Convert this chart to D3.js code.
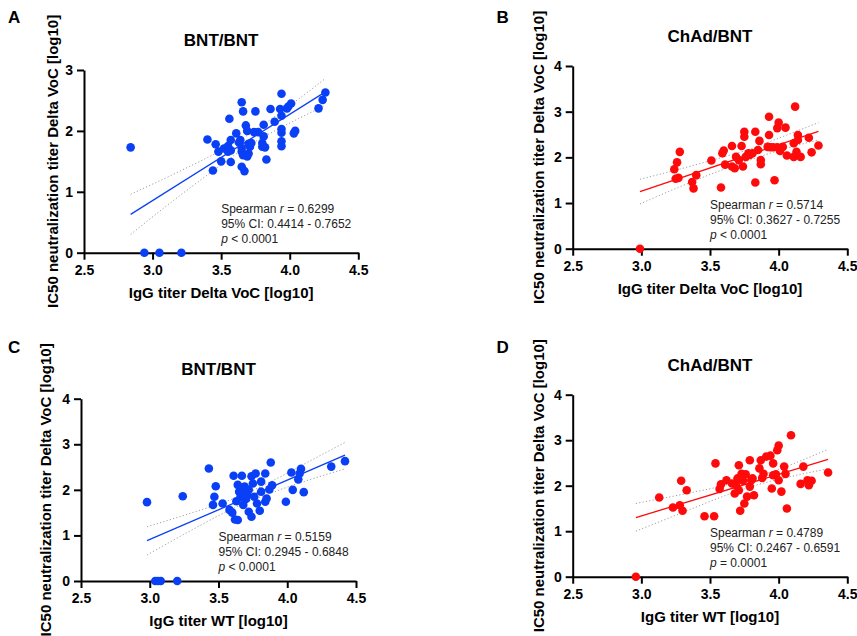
<!DOCTYPE html>
<html>
<head>
<meta charset="utf-8">
<script src="https://cdn.jsdelivr.net/npm/d3@7"></script>
<style>
  html, body { margin: 0; padding: 0; background: #fff; }
  svg { display: block; font-family: "Liberation Sans", Arial, sans-serif; }
</style>
</head>
<body>
<svg id="chart" width="857" height="636"></svg>
<script>
// [IgG log10, IC50 log10]
const bntDeltaPoints = [
  [2.84,1.73],[2.94,0],[3.05,0],[3.21,0],
  [3.40,1.86],[3.44,1.35],[3.46,1.78],[3.48,1.66],[3.50,1.50],[3.52,1.71],[3.55,1.75],[3.55,1.66],
  [3.56,2.20],[3.57,1.85],[3.57,1.68],[3.57,1.49],
  [3.61,1.96],[3.63,1.81],[3.64,1.85],[3.65,1.72],[3.65,1.66],[3.66,1.60],[3.65,1.41],[3.67,1.34],
  [3.65,2.47],[3.66,2.32],[3.68,2.09],[3.69,2.00],[3.70,1.79],[3.69,1.58],[3.70,1.63],[3.71,1.74],[3.72,1.80],
  [3.74,1.98],[3.75,2.32],[3.77,1.98],
  [3.80,1.80],[3.81,2.10],[3.81,1.91],[3.82,1.73],[3.83,1.53],[3.80,1.74],
  [3.86,2.36],[3.89,2.15],[3.93,2.36],[3.94,2.61],[3.94,2.25],[3.94,2.03],[3.94,1.97],[3.94,1.83],[3.94,1.75],
  [3.98,2.37],[3.99,2.40],[4.01,2.45],[4.03,1.96],[4.04,2.00],
  [4.21,2.37],[4.24,2.51],[4.26,2.63]
];
const chadDeltaPoints = [
  [2.99,0],
  [3.24,1.74],[3.25,1.53],[3.26,1.89],[3.27,1.55],[3.28,2.12],
  [3.37,1.46],[3.38,1.32],[3.40,1.61],[3.51,1.93],[3.58,1.34],[3.59,2.09],[3.60,2.15],[3.61,1.84],
  [3.66,2.25],[3.66,1.80],[3.68,1.76],[3.69,2.01],[3.71,1.94],[3.73,2.25],[3.74,1.80],[3.75,2.45],
  [3.75,2.56],[3.76,2.01],[3.78,2.09],[3.79,2.05],[3.81,2.09],[3.83,1.45],[3.83,2.56],[3.85,2.16],
  [3.86,2.36],[3.87,1.94],[3.87,1.85],[3.92,2.23],[3.93,2.89],[3.93,2.49],[3.94,2.22],[3.96,2.22],
  [3.97,1.50],[3.99,2.22],[3.99,2.64],[4.00,2.76],[4.01,2.14],[4.03,2.23],[4.05,2.65],[4.06,2.04],
  [4.11,2.01],[4.11,2.31],[4.12,3.11],[4.13,2.12],[4.14,2.49],[4.14,2.38],[4.16,2.01],
  [4.22,2.43],[4.24,2.11],[4.29,2.26]
];
const bntWtPoints = [
  [2.98,1.73],[3.04,0],[3.06,0],[3.08,0],[3.20,0],[3.24,1.86],
  [3.43,2.47],[3.47,1.85],[3.48,2.08],[3.46,1.67],[3.53,1.70],[3.58,1.56],[3.60,1.50],
  [3.61,2.31],[3.62,1.35],[3.64,1.34],[3.64,2.11],[3.65,1.96],[3.66,1.85],[3.67,1.90],[3.63,1.75],
  [3.67,2.31],[3.68,1.67],[3.69,2.07],[3.68,1.95],[3.70,1.80],[3.71,1.88],[3.72,2.00],[3.72,1.52],
  [3.74,1.41],[3.74,2.30],[3.75,2.14],[3.76,1.85],[3.77,2.36],[3.78,1.70],[3.80,1.54],[3.81,2.18],
  [3.81,1.96],[3.84,1.74],[3.84,2.36],[3.85,1.81],[3.87,2.01],[3.88,2.60],[3.89,2.10],
  [3.99,1.74],[4.03,2.38],[4.04,2.00],[4.08,2.23],[4.09,2.36],[4.10,2.46],[4.12,1.95],
  [4.32,2.51],[4.42,2.63]
];
const chadWtPoints = [
  [2.96,0],
  [3.13,1.74],[3.23,1.52],[3.28,1.57],[3.29,2.11],[3.30,1.45],[3.33,1.90],
  [3.46,1.33],[3.53,1.33],[3.54,2.49],[3.57,1.93],[3.58,2.03],[3.62,2.12],[3.66,2.05],
  [3.68,1.83],[3.69,2.01],[3.70,2.16],[3.71,2.45],[3.71,1.90],[3.72,1.45],[3.73,2.26],[3.74,2.11],
  [3.75,1.61],[3.76,2.25],[3.77,1.76],[3.79,2.56],[3.79,1.98],[3.80,2.12],[3.81,2.16],[3.82,1.79],
  [3.86,2.38],[3.87,2.56],[3.88,2.17],[3.89,2.26],[3.91,2.64],[3.94,2.66],[3.95,1.94],[3.96,2.49],
  [3.96,2.23],[3.98,2.25],[3.99,2.78],[4.00,2.88],[4.00,2.12],[4.02,1.87],[4.04,2.42],[4.05,2.26],
  [4.06,1.50],[4.09,3.11],[4.18,2.42],[4.16,2.04],[4.21,2.12],[4.22,2.01],[4.24,2.11],[4.36,2.29]
];

// regression lines and 95% confidence bands
const fitA = [[2.84,0.63],[4.26,2.64]];
const upperA = [[2.84,0.96],[3.2,1.34],[3.5,1.68],[3.7,1.94],[3.9,2.25],[4.26,2.86]];
const lowerA = [[2.84,0.30],[3.2,0.94],[3.5,1.44],[3.7,1.76],[3.9,2.01],[4.26,2.42]];
const fitB = [[2.99,1.25],[4.29,2.57]];
const upperB = [[2.99,1.52],[3.3,1.76],[3.6,2.01],[3.8,2.19],[4.0,2.42],[4.29,2.76]];
const lowerB = [[2.99,0.98],[3.3,1.38],[3.6,1.74],[3.8,1.95],[4.0,2.15],[4.29,2.38]];
const fitC = [[2.98,0.885],[4.42,2.76]];
const upperC = [[2.98,1.19],[3.3,1.49],[3.55,1.74],[3.7,1.92],[3.9,2.21],[4.15,2.61],[4.42,3.04]];
const lowerC = [[2.98,0.57],[3.3,1.11],[3.55,1.51],[3.7,1.72],[3.9,1.95],[4.15,2.21],[4.42,2.46]];
const fitD = [[2.96,1.30],[4.36,2.58]];
const upperD = [[2.96,1.61],[3.3,1.81],[3.6,2.00],[3.8,2.16],[4.0,2.36],[4.36,2.80]];
const lowerD = [[2.96,1.00],[3.3,1.41],[3.6,1.77],[3.8,1.98],[4.0,2.14],[4.36,2.37]];

// Spearman stats: [r, CI, p operator, p]
const statsA = ["0.6299", "0.4414 - 0.7652", "<", "0.0001"];
const statsB = ["0.5714", "0.3627 - 0.7255", "<", "0.0001"];
const statsC = ["0.5159", "0.2945 - 0.6848", "<", "0.0001"];
const statsD = ["0.4789", "0.2467 - 0.6591", "=", "0.0001"];

const xTicks = [2.5, 3.0, 3.5, 4.0, 4.5];
const yTicks3 = [0, 1, 2, 3];
const yTicks4 = [0, 1, 2, 3, 4];

const yLabel = "IC50 neutralization titer Delta VoC [log10]";
const BLUE = "#0a40f5";
const RED = "#ff0a0a";

const panels = [
  { letter: "A", title: "BNT/BNT", xLabel: "IgG titer Delta VoC [log10]", pts: bntDeltaPoints,
    fit: fitA, up: upperA, lo: lowerA, stats: statsA, color: BLUE, yTicks: yTicks3,
    box: { l: 84, r: 358.3, t: 70, b: 252.7 }, yLabX: 57.5, letterXY: [8, 23.3] },
  { letter: "B", title: "ChAd/BNT", xLabel: "IgG titer Delta VoC [log10]", pts: chadDeltaPoints,
    fit: fitB, up: upperB, lo: lowerB, stats: statsB, color: RED, yTicks: yTicks4,
    box: { l: 572.7, r: 847.3, t: 66, b: 248.7 }, yLabX: 544, letterXY: [496.5, 23.3] },
  { letter: "C", title: "BNT/BNT", xLabel: "IgG titer WT [log10]", pts: bntWtPoints,
    fit: fitC, up: upperC, lo: lowerC, stats: statsC, color: BLUE, yTicks: yTicks4,
    box: { l: 81, r: 356, t: 398.7, b: 581 }, yLabX: 51, letterXY: [8, 353.3] },
  { letter: "D", title: "ChAd/BNT", xLabel: "IgG titer WT [log10]", pts: chadWtPoints,
    fit: fitD, up: upperD, lo: lowerD, stats: statsD, color: RED, yTicks: yTicks4,
    box: { l: 572.7, r: 847.3, t: 394.7, b: 576.7 }, yLabX: 544, letterXY: [496.5, 353.3] }
];

const svg = d3.select("#chart");

panels.forEach((p) => {
  const { l, r, t, b } = p.box;
  const x = d3.scaleLinear().domain([2.5, 4.5]).range([l, r]);
  const y = d3.scaleLinear().domain([0, d3.max(p.yTicks)]).range([b, t]);
  const g = svg.append("g");

  // panel letter
  g.append("text")
    .attr("x", p.letterXY[0])
    .attr("y", p.letterXY[1])
    .attr("font-size", 17)
    .attr("font-weight", "bold")
    .text(p.letter);

  // title
  g.append("text")
    .attr("x", (l + r) / 2)
    .attr("y", t - 24)
    .attr("text-anchor", "middle")
    .attr("font-size", 17)
    .attr("font-weight", "bold")
    .text(p.title);

  // axes
  const xAxis = d3.axisBottom(x).tickValues(xTicks).tickFormat(d3.format(".1f")).tickSize(7).tickSizeOuter(0).tickPadding(5);
  const yAxis = d3.axisLeft(y).tickValues(p.yTicks).tickFormat(d3.format("d")).tickSize(7).tickSizeOuter(0).tickPadding(4);

  const xg = g.append("g").attr("transform", `translate(0,${b})`).call(xAxis);
  const yg = g.append("g").attr("transform", `translate(${l},0)`).call(yAxis);
  [xg, yg].forEach((ax) => {
    ax.select(".domain").attr("stroke", "#000").attr("stroke-width", 2);
    ax.selectAll(".tick line").attr("stroke", "#000").attr("stroke-width", 2);
    ax.selectAll(".tick text")
      .attr("font-size", 14)
      .attr("font-weight", "bold")
      .attr("font-family", "'Liberation Sans', Arial, sans-serif")
      .attr("fill", "#000");
  });

  // axis labels
  g.append("text")
    .attr("x", (l + r) / 2)
    .attr("y", b + 45)
    .attr("text-anchor", "middle")
    .attr("font-size", 15)
    .attr("font-weight", "bold")
    .text(p.xLabel);

  g.append("text")
    .attr("transform", `translate(${p.yLabX},${(t + b) / 2}) rotate(-90)`)
    .attr("text-anchor", "middle")
    .attr("font-size", 15)
    .attr("font-weight", "bold")
    .text(yLabel);

  // confidence bands
  const band = d3.line().x((d) => x(d[0])).y((d) => y(d[1])).curve(d3.curveMonotoneX);
  [p.up, p.lo].forEach((arr) => {
    g.append("path")
      .attr("d", band(arr))
      .attr("fill", "none")
      .attr("stroke", "#a0a0a0")
      .attr("stroke-width", 1)
      .attr("stroke-dasharray", "1.2,2.2");
  });

  // fit line
  g.append("path")
    .attr("d", d3.line().x((d) => x(d[0])).y((d) => y(d[1]))(p.fit))
    .attr("fill", "none")
    .attr("stroke", p.color)
    .attr("stroke-width", 1.3);

  // points
  g.append("g")
    .selectAll("circle")
    .data(p.pts)
    .join("circle")
    .attr("cx", (d) => x(d[0]))
    .attr("cy", (d) => y(d[1]))
    .attr("r", 4.3)
    .attr("fill", p.color);

  // stats annotation
  const ann = g.append("text")
    .attr("font-size", 12)
    .attr("fill", "#222");
  const ax0 = x(3.5);
  const l1 = ann.append("tspan").attr("x", ax0).attr("y", b - 40);
  l1.append("tspan").text("Spearman ");
  l1.append("tspan").attr("font-style", "italic").text("r");
  l1.append("tspan").text(" = " + p.stats[0]);
  ann.append("tspan").attr("x", ax0).attr("y", b - 25).text("95% CI: " + p.stats[1]);
  const l3 = ann.append("tspan").attr("x", ax0).attr("y", b - 10);
  l3.append("tspan").attr("font-style", "italic").text("p");
  l3.append("tspan").text(" " + p.stats[2] + " " + p.stats[3]);
});
</script>
</body>
</html>
